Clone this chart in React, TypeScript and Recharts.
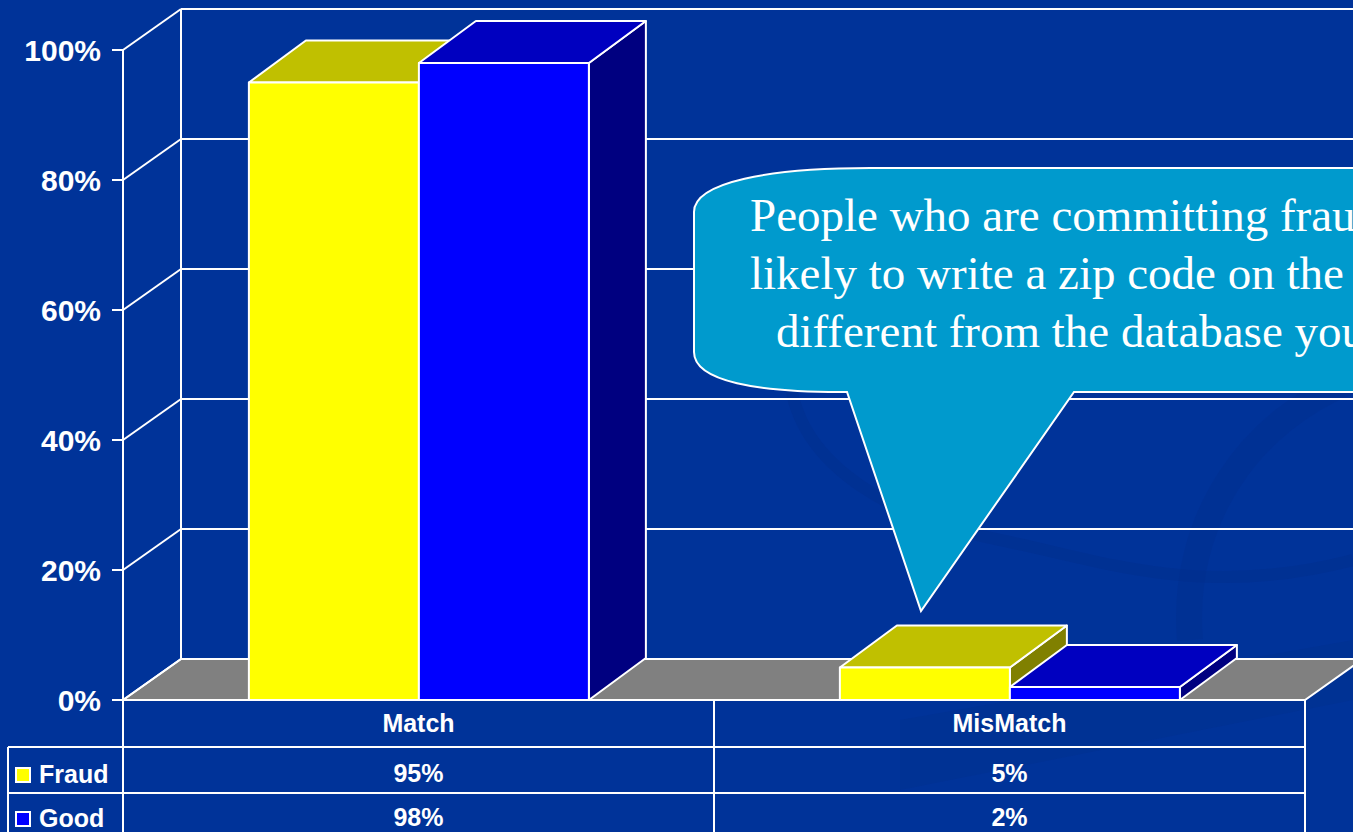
import React from 'react';
import { BarChart, Bar, XAxis, YAxis, CartesianGrid } from 'recharts';

const categories = ['Match', 'MisMatch'];
const seriesNames = ['Fraud', 'Good'];
const fraudValues = [0.95, 0.05];
const goodValues = [0.98, 0.02];
const yTicks = [0, 0.2, 0.4, 0.6, 0.8, 1];

const calloutLines = [
  'People who are committing fraud are more',
  'likely to write a zip code on the application',
  'different from the database you have',
];

const data = categories.map((c, i) => ({ category: c, fraud: fraudValues[i], good: goodValues[i] }));

const W = 1353;
const H = 832;
const PLOT_LEFT = 123;
const PLOT_TOP = 50;
const PLOT_RIGHT = 1305;
const PLOT_BOTTOM = 700;
const WALL_DX = 58;
const WALL_DY = 41;
const BAR_DX = 57;
const BAR_DY = 42;
const ROW1 = 747;
const ROW2 = 793;
const TABLE_LEFT = 8;

const BG = '#003399';
const WHITE = '#ffffff';
const sans = '"Liberation Sans", Arial, Helvetica, sans-serif';
const serif = '"Liberation Serif", "Times New Roman", serif';

const colors = {
  fraud: { front: '#FFFF00', top: '#C0C000', side: '#808000' },
  good: { front: '#0000FF', top: '#0000C0', side: '#000080' },
};

const fmtPct = (v: number) => `${Math.round(v * 100)}%`;

// 3D box drawn from the bar rectangle recharts gives us
const makeBox = (c: { front: string; top: string; side: string }) => (props: any) => {
  const { x, y, width, height } = props;
  if (width == null || height == null) return <g />;
  const x2 = x + width;
  const y2 = y + height;
  return (
    <g stroke={WHITE} strokeWidth={2} strokeLinejoin="round">
      <polygon
        points={`${x2},${y} ${x2 + BAR_DX},${y - BAR_DY} ${x2 + BAR_DX},${y2 - BAR_DY} ${x2},${y2}`}
        fill={c.side}
      />
      <polygon
        points={`${x},${y} ${x + BAR_DX},${y - BAR_DY} ${x2 + BAR_DX},${y - BAR_DY} ${x2},${y}`}
        fill={c.top}
      />
      <rect x={x} y={y} width={width} height={height} fill={c.front} />
    </g>
  );
};

// grid line -> diagonal to the back wall + line along the wall; bottom one also draws the floor
const WallLine = (props: any) => {
  const { x1, y1, x2, y, height } = props;
  const bx = x1 + WALL_DX;
  const by = y1 - WALL_DY;
  const isFloor = Math.abs(y1 - (y + height)) < 1;
  return (
    <g key={props.key}>
      {isFloor && (
        <g>
          <polygon
            points={`${x1},${y1} ${bx},${by} ${x2 + WALL_DX},${by} ${x2},${y1}`}
            fill="#808080"
            stroke={WHITE}
            strokeWidth={2}
          />
          <line x1={bx} y1={by} x2={bx} y2={y - WALL_DY} stroke={WHITE} strokeWidth={2} />
        </g>
      )}
      <line x1={x1} y1={y1} x2={bx} y2={by} stroke={WHITE} strokeWidth={2} />
      <line x1={bx} y1={by} x2={W + 20} y2={by} stroke={WHITE} strokeWidth={2} />
    </g>
  );
};

const YTick = (props: any) => {
  const { y, payload } = props;
  return (
    <g>
      <line x1={PLOT_LEFT - 11} y1={y} x2={PLOT_LEFT} y2={y} stroke={WHITE} strokeWidth={2} />
      <text
        x={PLOT_LEFT - 22}
        y={y}
        dy="0.36em"
        textAnchor="end"
        fill={WHITE}
        fontFamily={sans}
        fontWeight="bold"
        fontSize={30}
      >
        {fmtPct(payload.value)}
      </text>
    </g>
  );
};

// x ticks: the data table under the chart
const TableTick = (props: any) => {
  const { x, payload, index } = props;
  const band = (PLOT_RIGHT - PLOT_LEFT) / categories.length;
  const i = categories.indexOf(payload.value);
  const txt = { fill: WHITE, fontFamily: sans, fontWeight: 'bold' as const, fontSize: 25, textAnchor: 'middle' as const };
  return (
    <g>
      {index === 0 && (
        <g stroke={WHITE} strokeWidth={2}>
          <line x1={PLOT_LEFT} y1={PLOT_TOP} x2={PLOT_LEFT} y2={H} />
          <line x1={PLOT_LEFT} y1={PLOT_BOTTOM} x2={PLOT_RIGHT} y2={PLOT_BOTTOM} />
          <line x1={TABLE_LEFT} y1={ROW1} x2={PLOT_RIGHT} y2={ROW1} />
          <line x1={TABLE_LEFT} y1={ROW2} x2={PLOT_RIGHT} y2={ROW2} />
          <line x1={TABLE_LEFT} y1={ROW1} x2={TABLE_LEFT} y2={H} />
          <rect x={16} y={768} width={14} height={14} fill={colors.fraud.front} />
          <rect x={16} y={812} width={14} height={14} fill={colors.good.front} />
          <text x={39} y={783} {...txt} stroke="none" textAnchor="start">{seriesNames[0]}</text>
          <text x={39} y={827} {...txt} stroke="none" textAnchor="start">{seriesNames[1]}</text>
        </g>
      )}
      <line x1={x + band / 2} y1={PLOT_BOTTOM} x2={x + band / 2} y2={H} stroke={WHITE} strokeWidth={2} />
      <text x={x} y={732} {...txt}>{payload.value}</text>
      <text x={x} y={782} {...txt}>{fmtPct(fraudValues[i])}</text>
      <text x={x} y={826} {...txt}>{fmtPct(goodValues[i])}</text>
    </g>
  );
};

const Backdrop = () => (
  <svg width={W} height={H} style={{ position: 'absolute', left: 0, top: 0 }}>
    <rect width={W} height={H} fill={BG} />
    <path d="M 790 380 C 800 470, 900 520, 1000 540 S 1200 600, 1353 560" fill="none" stroke="#002f8c" strokeWidth={12} opacity={0.45} />
    <path d="M 1353 380 C 1250 420, 1180 520, 1190 640" fill="none" stroke="#002f8c" strokeWidth={26} opacity={0.35} />
    <path d="M 900 720 L 1353 640 L 1353 700 L 900 790 Z" fill="#00318f" opacity={0.45} />
  </svg>
);

const Callout = () => (
  <svg width={W} height={H} style={{ position: 'absolute', left: 0, top: 0, pointerEvents: 'none' }}>
    <path
      d="M 694 212 C 694 182, 770 168, 870 168 L 1370 168 L 1370 392 L 1074 392 L 921 611 L 847 392 L 840 392 C 760 392, 694 382, 694 352 Z"
      fill="#009ACD"
      stroke={WHITE}
      strokeWidth={2}
    />
    {calloutLines.map((line, i) => (
      <text key={i} x={i === 2 ? 776 : 750} y={231 + i * 58} fill={WHITE} fontFamily={serif} fontSize={47}>
        {line}
      </text>
    ))}
  </svg>
);

export default function App() {
  return (
    <div style={{ position: 'absolute', left: 0, top: 0, width: W, height: H, overflow: 'hidden', background: BG }}>
      <Backdrop />
      <div style={{ position: 'absolute', left: 0, top: 0 }}>
        <BarChart
          width={W}
          height={H}
          data={data}
          margin={{ top: PLOT_TOP, right: W - PLOT_RIGHT, bottom: 0, left: 0 }}
          barCategoryGap="21.3%"
          barGap={0}
        >
          <CartesianGrid vertical={false} horizontal={(p: any) => <WallLine {...p} />} />
          <YAxis
            width={PLOT_LEFT}
            domain={[0, 1]}
            ticks={yTicks}
            axisLine={false}
            tickLine={false}
            tick={<YTick />}
            interval={0}
          />
          <XAxis
            dataKey="category"
            height={H - PLOT_BOTTOM}
            axisLine={false}
            tickLine={false}
            tick={<TableTick />}
            interval={0}
          />
          <Bar dataKey="fraud" name={seriesNames[0]} shape={makeBox(colors.fraud)} isAnimationActive={false} />
          <Bar dataKey="good" name={seriesNames[1]} shape={makeBox(colors.good)} isAnimationActive={false} />
        </BarChart>
      </div>
      <Callout />
    </div>
  );
}
